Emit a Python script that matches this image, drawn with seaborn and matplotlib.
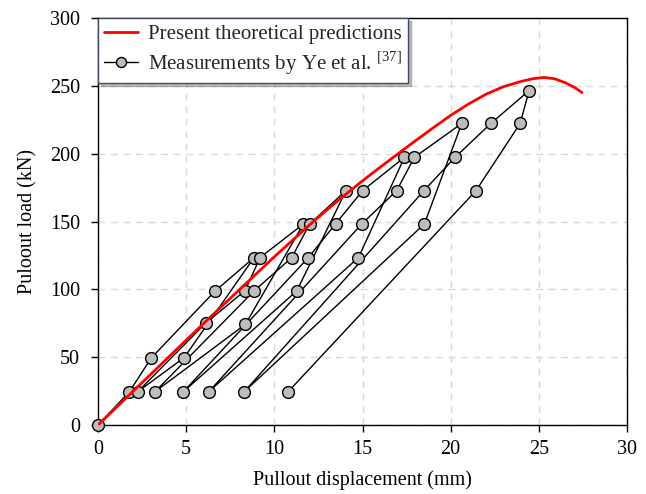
import matplotlib
matplotlib.use("Agg")
import matplotlib.pyplot as plt
import seaborn as sns

# ---- data ----
theory_disp = [0, 2, 4, 6, 8, 10, 12, 13, 14, 15, 16, 17, 18, 19, 20, 21, 22,
               23, 24, 24.7, 25.3, 25.9, 26.5, 27.0, 27.45]
theory_load = [0, 25, 50, 75, 99.5, 124, 147.5, 158.8, 169.5, 180, 190, 199.8,
               209.5, 219, 228.2, 236.5, 243.8, 249.4, 253.3, 255.3, 256.2,
               255.2, 252.3, 249, 245]

# cyclic loading test, chronological order
meas_disp = [0, 1.78, 3.02, 6.62, 8.85, 4.88, 2.25,
             6.10, 8.34, 9.19, 11.65, 8.36, 3.23,
             8.83, 10.99, 12.00, 14.07, 11.27, 4.84,
             11.93, 13.47, 15.01, 17.38, 14.77, 6.28,
             14.96, 16.94, 17.94, 20.63, 18.51, 8.29,
             18.49, 20.25, 22.28, 24.45, 23.94, 21.44, 10.78]
meas_load = [0, 24.5, 49.4, 98.5, 123.4, 49.6, 24.5,
             75.0, 99.0, 123.4, 148.2, 74.2, 24.5,
             98.6, 123.4, 148.2, 172.8, 98.8, 24.5,
             123.4, 148.2, 172.8, 197.3, 123.4, 24.5,
             148.2, 172.8, 197.3, 222.3, 148.2, 24.5,
             172.8, 197.3, 222.3, 246.5, 222.3, 172.8, 24.5]

x_ticks = [0, 5, 10, 15, 20, 25, 30]
y_ticks = [0, 50, 100, 150, 200, 250, 300]

label_theory = "Present theoretical predictions"
label_meas = r"Measurements by Ye et al. $^{\mathrm{[37]}}$"

sns.set_theme(style="ticks")
plt.rcParams["font.family"] = ["Liberation Serif", "DejaVu Serif"]
plt.rcParams["mathtext.fontset"] = "custom"
plt.rcParams["mathtext.rm"] = "Liberation Serif"

fig = plt.figure(figsize=(6.46, 4.94), dpi=100)
ax = fig.add_axes([98 / 646, 1 - 425 / 494, (627 - 98) / 646, (425 - 18) / 494])

sns.lineplot(x=meas_disp, y=meas_load, sort=False, estimator=None, ax=ax,
             color="black", linewidth=1.0, marker="o", markersize=8.5,
             markerfacecolor="#bdbdbd", markeredgecolor="black",
             markeredgewidth=1.0, label=label_meas, zorder=3, clip_on=False)
sns.lineplot(x=theory_disp, y=theory_load, sort=False, estimator=None, ax=ax,
             color="#ff0000", linewidth=2.0, label=label_theory, zorder=4)

ax.set_xlim(0, 30)
ax.set_ylim(0, 300)
ax.set_xticks(x_ticks)
ax.set_yticks(y_ticks)
ax.grid(True, linestyle=(0, (5, 4)), color="#d9d9d9", linewidth=1.0)
ax.set_axisbelow(True)
for s in ax.spines.values():
    s.set_visible(True)
    s.set_color("black")
    s.set_linewidth(1.0)
ax.tick_params(direction="out", length=5, width=1, color="black",
               labelsize=14.5, labelcolor="black", pad=6)
ax.tick_params(axis="y", pad=8)
ax.set_xlabel("Pullout displacement (mm)", fontsize=14.5, color="black", labelpad=8)
ax.set_ylabel("Puloout load (kN)", fontsize=14.5, color="black", labelpad=9)

h, l = ax.get_legend_handles_labels()
leg = ax.legend(h[::-1], l[::-1], loc="upper left", bbox_to_anchor=(0, 1),
                borderaxespad=0.0, fontsize=15, frameon=True, fancybox=False,
                shadow={"color": "0.55", "alpha": 0.6}, edgecolor="#3f4a63",
                framealpha=1.0, handlelength=1.6, handletextpad=0.5,
                labelspacing=0.25, borderpad=0.3, markerscale=0.85)
leg.get_frame().set_linewidth(1.0)

fig.savefig("out.png", dpi=100)
